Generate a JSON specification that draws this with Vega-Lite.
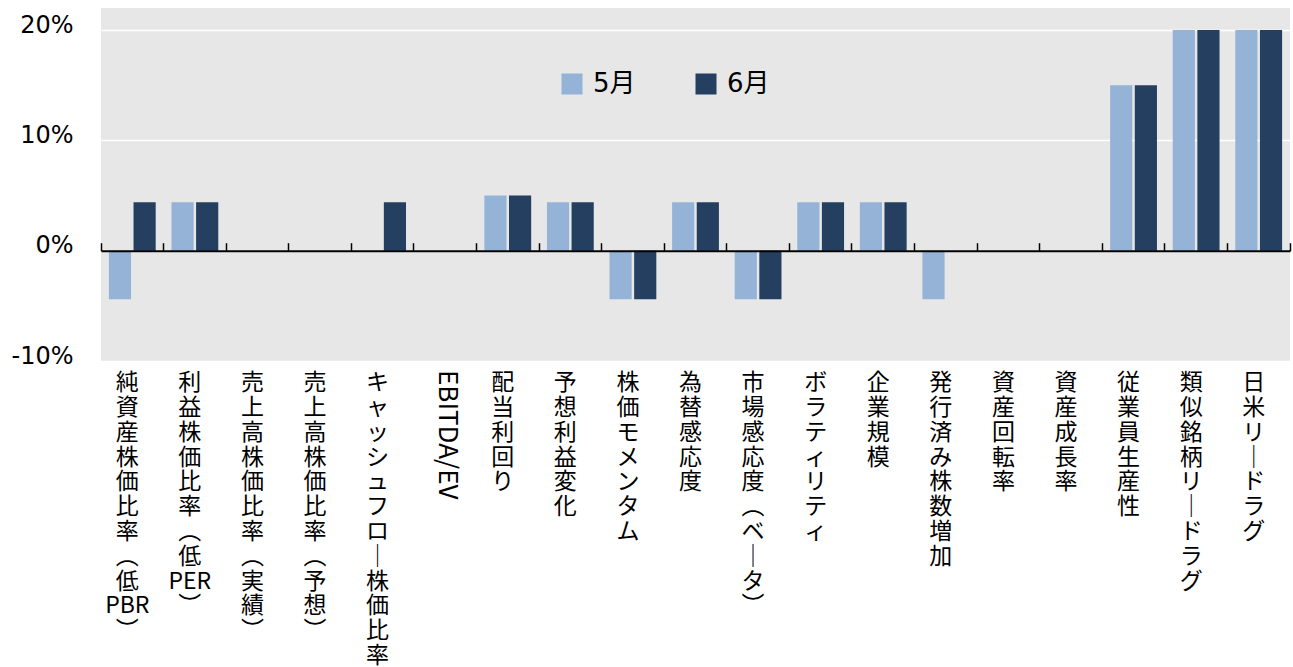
{
  "$schema": "https://vega.github.io/schema/vega-lite/v6.json",
  "width": 1189,
  "height": 353,
  "autosize": "none",
  "padding": {"left": 101, "top": 8, "right": 3, "bottom": 306},
  "background": "white",
  "data": {
    "values": [
      {"factor": "純資産株価比率（低PBR）", "month": "5月", "value": -4.4},
      {"factor": "純資産株価比率（低PBR）", "month": "6月", "value": 4.4},
      {"factor": "利益株価比率（低PER）", "month": "5月", "value": 4.4},
      {"factor": "利益株価比率（低PER）", "month": "6月", "value": 4.4},
      {"factor": "売上高株価比率（実績）", "month": "5月", "value": 0},
      {"factor": "売上高株価比率（実績）", "month": "6月", "value": 0},
      {"factor": "売上高株価比率（予想）", "month": "5月", "value": 0},
      {"factor": "売上高株価比率（予想）", "month": "6月", "value": 0},
      {"factor": "キャッシュフロー株価比率", "month": "5月", "value": 0},
      {"factor": "キャッシュフロー株価比率", "month": "6月", "value": 4.4},
      {"factor": "EBITDA/EV", "month": "5月", "value": 0},
      {"factor": "EBITDA/EV", "month": "6月", "value": 0},
      {"factor": "配当利回り", "month": "5月", "value": 5.0},
      {"factor": "配当利回り", "month": "6月", "value": 5.0},
      {"factor": "予想利益変化", "month": "5月", "value": 4.4},
      {"factor": "予想利益変化", "month": "6月", "value": 4.4},
      {"factor": "株価モメンタム", "month": "5月", "value": -4.4},
      {"factor": "株価モメンタム", "month": "6月", "value": -4.4},
      {"factor": "為替感応度", "month": "5月", "value": 4.4},
      {"factor": "為替感応度", "month": "6月", "value": 4.4},
      {"factor": "市場感応度（ベータ）", "month": "5月", "value": -4.4},
      {"factor": "市場感応度（ベータ）", "month": "6月", "value": -4.4},
      {"factor": "ボラティリティ", "month": "5月", "value": 4.4},
      {"factor": "ボラティリティ", "month": "6月", "value": 4.4},
      {"factor": "企業規模", "month": "5月", "value": 4.4},
      {"factor": "企業規模", "month": "6月", "value": 4.4},
      {"factor": "発行済み株数増加", "month": "5月", "value": -4.4},
      {"factor": "発行済み株数増加", "month": "6月", "value": 0},
      {"factor": "資産回転率", "month": "5月", "value": 0},
      {"factor": "資産回転率", "month": "6月", "value": 0},
      {"factor": "資産成長率", "month": "5月", "value": 0},
      {"factor": "資産成長率", "month": "6月", "value": 0},
      {"factor": "従業員生産性", "month": "5月", "value": 15},
      {"factor": "従業員生産性", "month": "6月", "value": 15},
      {"factor": "類似銘柄リードラグ", "month": "5月", "value": 20},
      {"factor": "類似銘柄リードラグ", "month": "6月", "value": 20},
      {"factor": "日米リードラグ", "month": "5月", "value": 20},
      {"factor": "日米リードラグ", "month": "6月", "value": 20}
    ]
  },
  "layer": [
    {
      "mark": {"type": "bar"},
      "encoding": {
        "x": {
          "field": "factor",
          "type": "nominal",
          "sort": null,
          "title": null,
          "scale": {"paddingInner": 0, "paddingOuter": 0},
          "axis": {
            "zindex": 1,
            "offset": -110.3,
            "domain": true,
            "domainColor": "black",
            "domainWidth": 2,
            "ticks": true,
            "tickColor": "black",
            "tickWidth": 1.5,
            "tickSize": -8,
            "bandPosition": 1,
            "tickExtra": true,
            "labelExpr": "datum.value === 'EBITDA/EV' ? '' : split(replace(replace(replace(datum.label, regexp('ー', 'g'), '｜'), '（', '︵'), '）', '︶'), regexp('(?<![A-Z])|(?![A-Z])'))",
            "labelAngle": 0,
            "labelAlign": "center",
            "labelBaseline": "top",
            "labelPadding": 129,
            "labelOffset": -5,
            "labelFont": "Noto Sans CJK JP",
            "labelFontSize": 23,
            "labelLineHeight": 24.8,
            "labelColor": "black",
            "labelOverlap": false,
            "labelBound": false,
            "labelFlush": false,
            "labelLimit": 0
          }
        },
        "xOffset": {
          "field": "month",
          "type": "nominal",
          "sort": ["5月", "6月"],
          "scale": {"paddingInner": 0.1, "paddingOuter": 0.32}
        },
        "y": {
          "field": "value",
          "type": "quantitative",
          "title": null,
          "scale": {"domain": [-10, 22], "nice": false, "zero": false},
          "axis": {
            "values": [-10, 0, 10, 20],
            "labelExpr": "datum.value + '%'",
            "domain": false,
            "ticks": false,
            "grid": true,
            "gridColor": "white",
            "gridWidth": 1.5,
            "labelFont": "DejaVu Sans",
            "labelFontSize": 24,
            "labelColor": "black",
            "labelPadding": 28,
            "labelOffset": -5
          }
        },
        "color": {
          "field": "month",
          "type": "nominal",
          "sort": ["5月", "6月"],
          "scale": {"range": ["#95B3D7", "#243F60"]},
          "legend": {
            "title": null,
            "orient": "none",
            "legendX": 458,
            "legendY": 63,
            "direction": "horizontal",
            "symbolType": "square",
            "symbolSize": 441,
            "symbolStrokeWidth": 0,
            "labelFontSize": 26,
            "labelFont": "DejaVu Sans, Noto Sans CJK JP",
            "labelColor": "black",
            "labelOffset": 8,
            "columnPadding": 57
          }
        }
      }
    },
    {
      "transform": [{"filter": "datum.factor === 'EBITDA/EV' && datum.month === '5月'"}],
      "mark": {
        "type": "text",
        "angle": 90,
        "align": "left",
        "baseline": "middle",
        "dx": 9,
        "dy": -2,
        "font": "Noto Sans CJK JP",
        "fontSize": 26,
        "color": "black"
      },
      "encoding": {
        "x": {"field": "factor", "type": "nominal", "sort": null, "title": null},
        "y": {"datum": -10, "type": "quantitative", "title": null},
        "text": {"field": "factor"}
      }
    }
  ],
  "config": {"view": {"fill": "#E7E7E7", "stroke": null}}
}
